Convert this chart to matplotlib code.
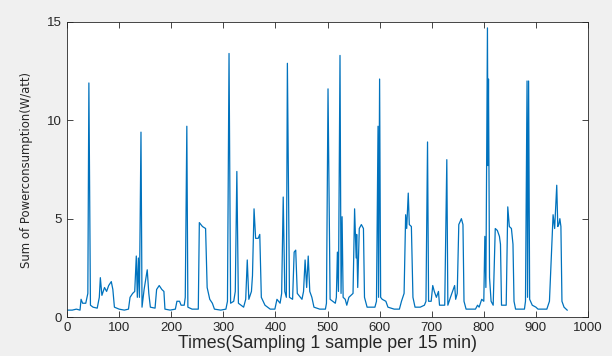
import numpy as np
import matplotlib
matplotlib.use("Agg")
import matplotlib.pyplot as plt

# vertices of the trace (sample index, watt)
t = [0, 10, 18, 25, 27, 30, 36, 40, 42, 45, 50, 58, 62, 64, 67, 72, 76, 80, 85, 88, 91, 100, 110, 118,
     121, 126, 130, 133, 135, 137, 139, 142, 144, 148, 154, 157, 160, 169, 172, 177, 182, 186, 188, 198, 208,
     211, 216, 219, 225, 227, 230, 232, 240, 252, 254, 260, 266, 269, 274, 279, 283, 295, 305,
     308, 311, 314, 320, 323, 326, 329, 339, 343, 346, 349, 354, 356, 359, 362, 367, 370, 373, 380, 390, 399,
     403, 409, 412, 415, 418, 421, 423, 427, 433, 436, 439, 442, 451, 454, 457, 460, 463, 466, 470, 474, 485, 496,
     498, 501, 505, 515, 517, 519, 521, 524, 526, 528, 530, 534, 537, 541, 549, 552, 555, 556, 558, 561, 565, 569,
     571, 576, 585, 591, 594, 597, 598, 600, 602, 605, 612, 616, 628, 638,
     642, 647, 650, 652, 655, 657, 661, 664, 668, 678, 686, 689, 692, 694, 699, 702, 705, 709, 713, 715,
     725, 729, 731, 736, 744, 746, 749, 752, 757, 760, 762, 766, 775, 784, 788, 791, 796, 800,
     802, 804, 807, 808, 809, 811, 814, 818, 822, 826, 830, 832, 834, 843, 846, 849, 853, 856, 858, 861, 870, 878,
     880, 883, 884, 886, 888, 893, 900, 904, 915, 921, 926, 933, 936, 940, 942, 944, 946, 948, 950, 954, 960]
pw = [0.35, 0.35, 0.4, 0.35, 0.9, 0.7, 0.7, 1.2, 11.9, 0.6, 0.5, 0.45, 1.0, 2.0, 1.1, 1.5, 1.3, 1.6, 1.8, 1.4, 0.5, 0.4, 0.35, 0.4,
      1.0, 1.2, 1.3, 3.1, 1.0, 3.0, 1.0, 9.4, 0.5, 1.4, 2.4, 1.2, 0.5, 0.45, 1.4, 1.6, 1.4, 1.3, 0.4, 0.35, 0.4,
      0.8, 0.8, 0.6, 0.6, 1.0, 9.7, 0.5, 0.4, 0.4, 4.8, 4.6, 4.5, 1.5, 0.9, 0.7, 0.4, 0.35, 0.4,
      0.8, 13.4, 0.7, 0.8, 1.3, 7.4, 0.7, 0.5, 0.9, 2.9, 0.9, 1.3, 2.1, 5.5, 4.0, 4.0, 4.2, 1.0, 0.6, 0.4, 0.4,
      0.9, 0.7, 1.2, 6.1, 1.3, 1.0, 12.9, 1.0, 0.9, 3.3, 3.4, 1.2, 0.9, 1.3, 2.9, 1.5, 3.1, 1.3, 1.0, 0.5, 0.4, 0.4,
      0.7, 11.6, 0.9, 0.7, 1.0, 3.3, 1.3, 13.3, 1.2, 5.1, 1.0, 0.9, 0.6, 1.0, 1.2, 5.5, 3.0, 4.2, 1.5, 4.5, 4.7, 4.5,
      1.0, 0.5, 0.5, 0.5, 0.8, 9.7, 1.0, 12.1, 1.0, 0.9, 0.8, 0.5, 0.4, 0.4,
      0.8, 1.2, 5.2, 4.5, 6.3, 4.7, 4.6, 1.0, 0.5, 0.5, 0.6, 0.8, 8.9, 0.8, 0.8, 1.6, 1.3, 1.0, 1.3, 0.6,
      0.6, 8.0, 0.6, 1.0, 1.6, 0.9, 1.2, 4.7, 5.0, 4.7, 0.8, 0.4, 0.4, 0.4, 0.6, 0.5, 0.9, 0.8,
      4.1, 1.5, 14.7, 7.7, 12.1, 2.0, 0.8, 0.6, 4.5, 4.4, 4.1, 3.7, 0.6, 0.6, 5.6, 4.6, 4.5, 3.7, 0.8, 0.4, 0.4, 0.4,
      0.8, 12.0, 1.0, 12.0, 0.9, 0.6, 0.5, 0.4, 0.4, 0.4, 0.8, 5.2, 4.5, 6.7, 4.6, 4.7, 5.0, 4.6, 0.8, 0.5, 0.35]

fig = plt.figure(figsize=(6.12, 3.56), dpi=100, facecolor="#f0f0f0")
ax = fig.add_axes([67 / 612, 1 - 317 / 356, 521 / 612, 295 / 356])
ax.plot(t, pw, color="#0072bd", lw=0.9)

ax.set_xlim(0, 1000)
ax.set_ylim(0, 15)
ax.set_xticks(np.arange(0, 1001, 100))
ax.set_yticks([0, 5, 10, 15])
ax.tick_params(direction="in", top=True, right=True, length=4, width=0.6,
               colors="#262626", labelsize=9.5)
for s in ax.spines.values():
    s.set_color("#262626")
    s.set_linewidth(0.6)
for lab in ax.get_xticklabels() + ax.get_yticklabels():
    lab.set_family("Liberation Sans")

ax.set_xlabel("Times(Sampling 1 sample per 15 min)", fontsize=12.8, family="Liberation Sans",
              color="#262626", labelpad=1)
ax.set_ylabel("Sum of Powerconsumption(W/att)", fontsize=8.4, family="Liberation Sans Narrow",
              color="#262626", labelpad=10)

fig.savefig("out.png", dpi=100, facecolor=fig.get_facecolor())
